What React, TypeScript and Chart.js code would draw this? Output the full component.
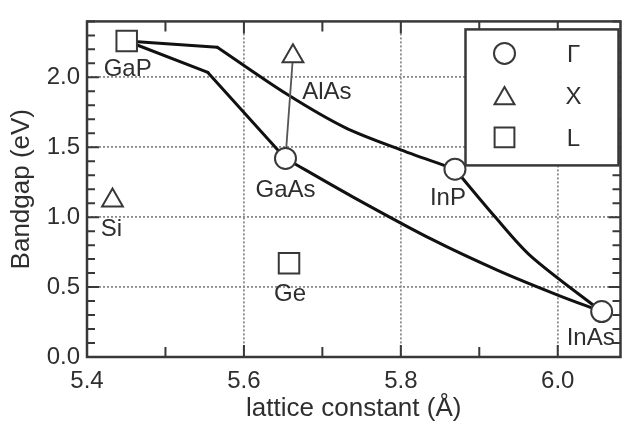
import React, { useEffect, useRef } from 'react';
import { Chart, registerables } from 'chart.js';

Chart.register(...registerables);

// ---- data ----
const xTickValues = [5.4, 5.6, 5.8, 6.0];
const xTickLabels = ['5.4', '5.6', '5.8', '6.0'];
const yTickValues = [0, 0.5, 1.0, 1.5, 2.0];
const yTickLabels = ['0.0', '0.5', '1.0', '1.5', '2.0'];

// upper boundary: GaP -> kink -> InP -> InAs
const upperX = [5.4506, 5.566, 5.654, 5.729, 5.8, 5.869, 5.92, 5.966, 6.056];
const upperY = [2.26, 2.215, 1.882, 1.64, 1.481, 1.343, 1.003, 0.72, 0.325];
const upperBreaks = [1, 5]; // indices of sharp corners (kink, InP)
// lower boundary: GaP -> kink -> GaAs -> InAs
const lowerX = [5.4506, 5.554, 5.653, 5.7375, 5.841, 5.925, 6.0, 6.056];
const lowerY = [2.26, 2.035, 1.42, 1.149, 0.837, 0.616, 0.443, 0.325];
const lowerBreaks = [1, 2]; // kink, GaAs

// Gamma (direct) gap materials
const gammaNames = ['GaAs', 'InP', 'InAs'];
const gammaX = [5.653, 5.869, 6.056];
const gammaY = [1.42, 1.343, 0.325];
// X (indirect) gap materials
const xNames = ['AlAs', 'Si'];
const xX = [5.6625, 5.4325];
const xY = [2.15, 1.12];
// L (indirect) gap materials
const lNames = ['GaP', 'Ge'];
const lX = [5.4506, 5.6575];
const lY = [2.26, 0.671];

// GaAs -> AlAs connector
const linkX = [5.653, 5.6625];
const linkY = [1.42, 2.15];

const legendSymbols = ['circle', 'triangle', 'rect'];
const legendLabels = ['Γ', 'X', 'L'];

// label placement (pixel offsets from marker)
const labelOffsets: Record<string, [number, number]> = {
  GaP: [1, 28],
  AlAs: [34, 36],
  GaAs: [0, 32],
  Si: [-1, 29],
  Ge: [1, 31],
  InP: [-7, 29],
  InAs: [-11, 27],
};

const FONT = '"Liberation Sans", Arial, Helvetica, sans-serif';
const TEXT = '#2e2e2e';
const EDGE = '#383838';

const zip = (xs: number[], ys: number[]) => xs.map((x, i) => ({ x, y: ys[i] }));

function segments(xs: number[], ys: number[], breaks: number[]) {
  const cuts = [0, ...breaks, xs.length - 1];
  const out: { x: number; y: number }[][] = [];
  for (let k = 0; k < cuts.length - 1; k++) {
    out.push(zip(xs.slice(cuts[k], cuts[k + 1] + 1), ys.slice(cuts[k], cuts[k + 1] + 1)));
  }
  return out;
}

function drawSymbol(ctx: CanvasRenderingContext2D, kind: string, x: number, y: number, r: number) {
  ctx.beginPath();
  if (kind === 'circle') {
    ctx.arc(x, y, r, 0, Math.PI * 2);
  } else if (kind === 'triangle') {
    const h = r * 1.5;
    const w = r * Math.sqrt(3);
    ctx.moveTo(x, y - r);
    ctx.lineTo(x + w / 2, y - r + h);
    ctx.lineTo(x - w / 2, y - r + h);
    ctx.closePath();
  } else {
    const s = r * Math.SQRT1_2;
    ctx.rect(x - s, y - s, 2 * s, 2 * s);
  }
  ctx.fillStyle = '#ffffff';
  ctx.fill();
  ctx.strokeStyle = EDGE;
  ctx.lineWidth = 2;
  ctx.stroke();
}

const framePlugin = {
  id: 'frameTicks',
  afterDatasetsDraw(chart: any) {
    const { ctx, chartArea, scales } = chart;
    const { left, right, top, bottom } = chartArea;
    const xs = scales.x;
    const ys = scales.y;
    ctx.save();
    ctx.strokeStyle = EDGE;
    ctx.lineWidth = 2;
    for (let i = 0; i <= 24; i++) {
      const py = ys.getPixelForValue(i / 10);
      const len = i % 5 === 0 ? 12 : 8;
      ctx.beginPath();
      ctx.moveTo(left, py);
      ctx.lineTo(left + len, py);
      ctx.moveTo(right, py);
      ctx.lineTo(right - len, py);
      ctx.stroke();
    }
    for (let i = 54; i <= 60; i++) {
      const px = xs.getPixelForValue(i / 10);
      const len = i % 2 === 0 ? 12 : 10;
      ctx.beginPath();
      ctx.moveTo(px, bottom);
      ctx.lineTo(px, bottom - len);
      ctx.moveTo(px, top);
      ctx.lineTo(px, top + len);
      ctx.stroke();
    }
    ctx.lineWidth = 2.5;
    ctx.strokeRect(left, top, right - left, bottom - top);
    ctx.restore();
  },
};

const labelPlugin = {
  id: 'pointLabels',
  afterDatasetsDraw(chart: any) {
    const { ctx } = chart;
    ctx.save();
    ctx.font = `24px ${FONT}`;
    ctx.fillStyle = TEXT;
    ctx.textAlign = 'center';
    ctx.textBaseline = 'middle';
    chart.data.datasets.forEach((ds: any, di: number) => {
      if (!ds.names) return;
      const meta = chart.getDatasetMeta(di);
      meta.data.forEach((el: any, i: number) => {
        const name = ds.names[i];
        const off = labelOffsets[name] || [0, 28];
        ctx.fillText(name, el.x + off[0], el.y + off[1]);
      });
    });
    ctx.restore();
  },
};

const legendPlugin = {
  id: 'boxLegend',
  afterDraw(chart: any) {
    const { ctx, chartArea } = chart;
    const bx = chartArea.right - 155;
    const by = chartArea.top + 8;
    const bw = 153;
    const bh = 136;
    ctx.save();
    ctx.fillStyle = '#ffffff';
    ctx.fillRect(bx, by, bw, bh);
    ctx.strokeStyle = EDGE;
    ctx.lineWidth = 2.5;
    ctx.strokeRect(bx, by, bw, bh);
    ctx.font = `24px ${FONT}`;
    ctx.textAlign = 'center';
    ctx.textBaseline = 'middle';
    legendSymbols.forEach((s, i) => {
      const cy = by + 24 + i * 42;
      const r = s === 'circle' ? 10.5 : s === 'triangle' ? 11.5 : 14;
      drawSymbol(ctx, s, bx + 39, s === 'triangle' ? cy + 3 : cy, r);
      ctx.fillStyle = TEXT;
      ctx.fillText(legendLabels[i], bx + 108, cy + 2);
    });
    ctx.restore();
  },
};

export default function App() {
  const ref = useRef<HTMLCanvasElement | null>(null);

  useEffect(() => {
    if (!ref.current) return;
    const markerCommon = {
      backgroundColor: '#ffffff',
      borderColor: EDGE,
      borderWidth: 2,
      showLine: false,
    };
    const lineCommon = {
      showLine: true,
      borderColor: '#111111',
      borderWidth: 3,
      pointRadius: 0,
      borderCapStyle: 'round',
      borderJoinStyle: 'round',
    };
    const upperSegs = segments(upperX, upperY, upperBreaks);
    const lowerSegs = segments(lowerX, lowerY, lowerBreaks);
    const lineSets = [
      ...upperSegs.map((d, k) => ({ ...lineCommon, label: `upper${k}`, data: d, tension: d.length > 2 ? 0.3 : 0 })),
      ...lowerSegs.map((d, k) => ({ ...lineCommon, label: `lower${k}`, data: d, tension: d.length > 2 ? 0.3 : 0 })),
    ];
    const chart = new Chart(ref.current, {
      type: 'scatter',
      data: {
        datasets: [
          { ...markerCommon, label: 'Γ', names: gammaNames, data: zip(gammaX, gammaY), pointStyle: 'circle', pointRadius: 10.5 } as any,
          { ...markerCommon, label: 'X', names: xNames, data: zip(xX, xY), pointStyle: 'triangle', pointRadius: 12 } as any,
          { ...markerCommon, label: 'L', names: lNames, data: zip(lX, lY), pointStyle: 'rect', pointRadius: 14.5 } as any,
          { label: 'link', data: zip(linkX, linkY), showLine: true, borderColor: '#555555', borderWidth: 1.8, pointRadius: 0 },
          ...lineSets,
        ],
      },
      options: {
        animation: false,
        responsive: false,
        devicePixelRatio: 1,
        layout: { padding: { top: 10, right: 7, left: 0, bottom: 0 } },
        plugins: { legend: { display: false }, tooltip: { enabled: false } },
        scales: {
          x: {
            type: 'linear',
            min: 5.4,
            max: 6.08,
            afterBuildTicks: (s: any) => {
              s.ticks = xTickValues.map((v) => ({ value: v }));
            },
            afterFit: (s: any) => {
              s.height = 68;
            },
            ticks: {
              callback: (_v: any, i: number) => xTickLabels[i],
              font: { size: 24, family: FONT },
              color: TEXT,
              padding: 10,
              maxRotation: 0,
              autoSkip: false,
            },
            grid: { color: '#8a8a8a', lineWidth: 1.8, drawTicks: false },
            border: { display: false, dash: [2, 2] },
            title: {
              display: true,
              text: 'lattice constant (Å)',
              font: { size: 26, family: FONT },
              color: TEXT,
              padding: { top: 0, bottom: 1 },
            },
          },
          y: {
            type: 'linear',
            min: 0,
            max: 2.4,
            afterBuildTicks: (s: any) => {
              s.ticks = yTickValues.map((v) => ({ value: v }));
            },
            afterFit: (s: any) => {
              s.width = 87;
            },
            ticks: {
              callback: (_v: any, i: number) => yTickLabels[i],
              font: { size: 24, family: FONT },
              color: TEXT,
              padding: 7,
              autoSkip: false,
            },
            grid: { color: '#8a8a8a', lineWidth: 1.8, drawTicks: false },
            border: { display: false, dash: [2, 2] },
            title: {
              display: true,
              text: 'Bandgap (eV)',
              font: { size: 26, family: FONT },
              color: TEXT,
              padding: { top: 6, bottom: 0 },
            },
          },
        },
      } as any,
      plugins: [framePlugin, labelPlugin, legendPlugin],
    });
    return () => chart.destroy();
  }, []);

  return (
    <div style={{ position: 'fixed', left: 0, top: 0, width: 637, height: 425, background: '#ffffff' }}>
      <canvas ref={ref} width={637} height={425} style={{ display: 'block' }} />
    </div>
  );
}
